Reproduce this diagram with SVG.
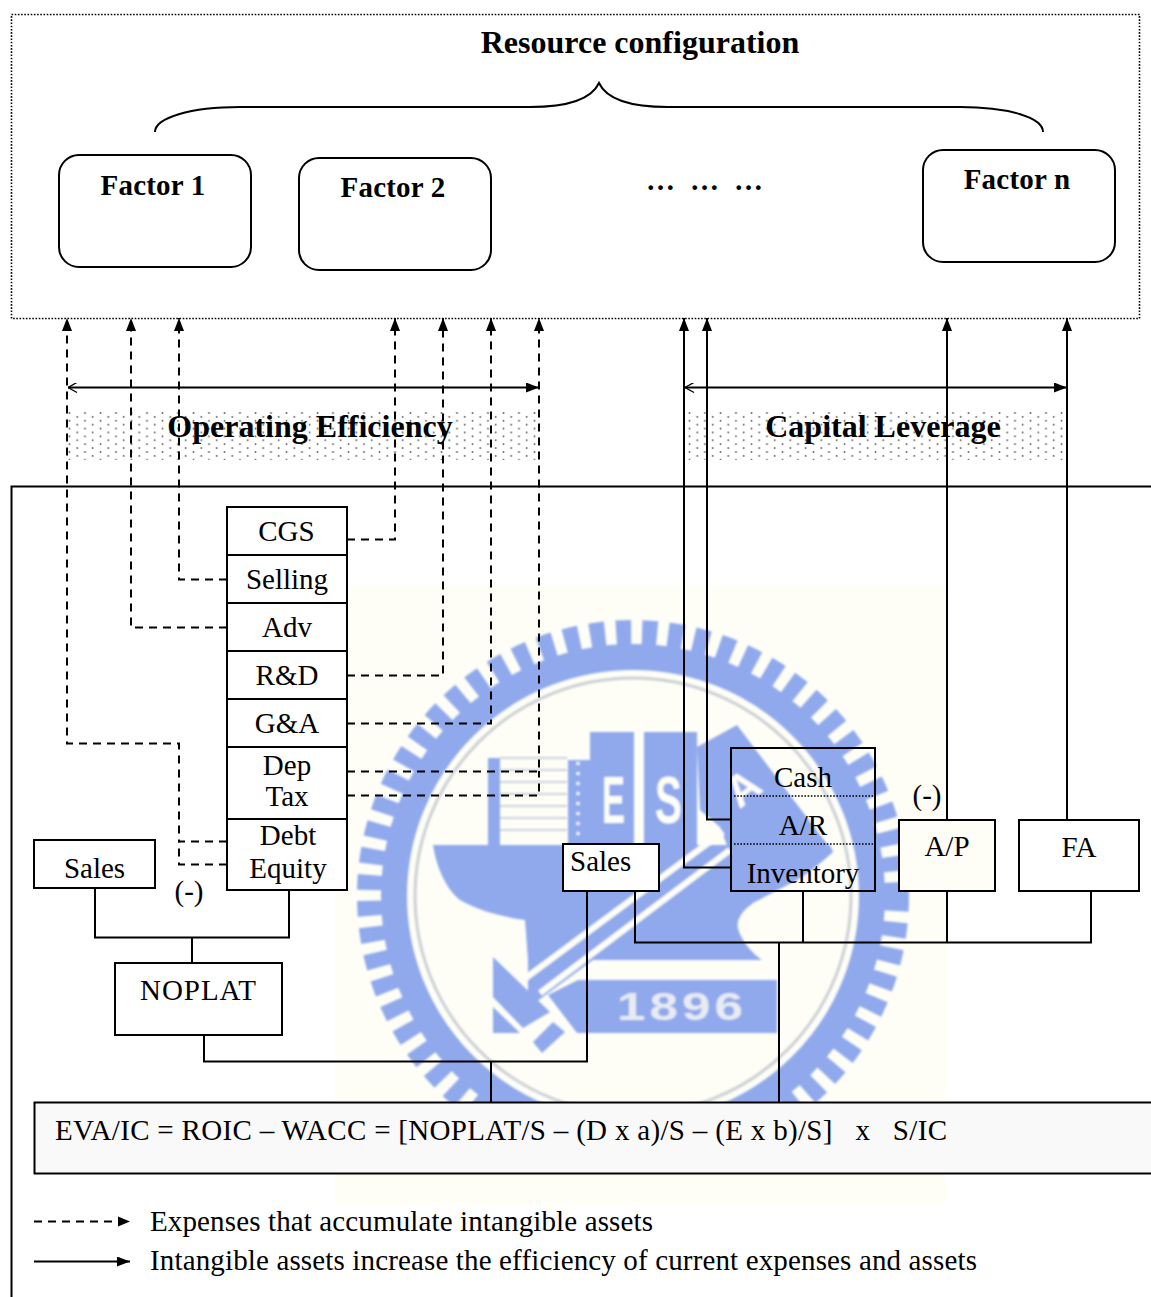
<svg xmlns="http://www.w3.org/2000/svg" width="1151" height="1297" viewBox="0 0 1151 1297">
<style>
text{font-family:"Liberation Serif","Times New Roman",serif;font-size:29px;fill:#000}
.b{font-weight:bold;letter-spacing:.2px}
.m{text-anchor:middle}
.t{font-size:32px;font-weight:bold}
.box{fill:#fff;stroke:#000;stroke-width:2}
.clear{fill:none;stroke:#000;stroke-width:2}
.solid{fill:none;stroke:#000;stroke-width:2}
.dash{fill:none;stroke:#000;stroke-width:2;stroke-dasharray:8 6}
.up{marker-end:url(#arrow)}
.wm{fill:#8fa9ec}
.wt{font-family:"Liberation Sans",Arial,sans-serif;font-weight:bold;fill:#fefef7}
</style>
<defs>
<marker id="arrow" markerUnits="userSpaceOnUse" markerWidth="14" markerHeight="12" refX="13" refY="5" orient="auto"><path d="M0 0L13 5L0 10Z" fill="#000"/></marker>
<marker id="open" markerUnits="userSpaceOnUse" markerWidth="12" markerHeight="12" refX="0" refY="5" orient="auto"><path d="M9 0L0 5L9 10" fill="none" stroke="#000" stroke-width="1.4"/></marker>
<pattern id="dots" width="15.5" height="7.8" patternUnits="userSpaceOnUse" x="67" y="412"><circle cx="2.5" cy="1" r="0.95" fill="#666"/><circle cx="10.25" cy="4.9" r="0.95" fill="#666"/></pattern>
<filter id="soft" filterUnits="userSpaceOnUse" x="335" y="585" width="610" height="620"><feGaussianBlur stdDeviation="0.9"/></filter>
</defs>
<rect width="1151" height="1297" fill="#fff"/>
<g id="watermark">
<rect x="335" y="585" width="610" height="620" fill="#fefef7"/>
<g filter="url(#soft)">
<circle cx="633" cy="896" r="263" fill="none" stroke="#8fa9ec" stroke-width="26" stroke-dasharray="15 11"/>
<circle cx="633" cy="896" r="239" fill="none" stroke="#8fa9ec" stroke-width="26"/>
<circle cx="633" cy="896" r="218" fill="none" stroke="#ccd0d4" stroke-width="3"/>
<path class="wm" d="M433 845H830L833 852C822 862 810 872 797 880L753 903C742 911 736 920 738 928C740 938 750 952 762 960H593L528 1008L528 960L525 920C510 918 480 912 460 900C445 888 436 865 433 845Z"/>
<rect class="wm" x="590" y="732" width="44" height="113"/>
<rect class="wm" x="644" y="732" width="53" height="113"/>
<path class="wm" d="M697 747L737 725L833 852L730 853L720 827L700 810Z"/>
<rect class="wm" x="488" y="758" width="12" height="87"/>
<rect class="wm" x="568" y="760" width="24" height="85"/>
<path d="M500 758H567M500 770H567M500 782H567M500 794H567M500 806H567M500 818H567M500 830H567" stroke="#ccd1de" stroke-width="2" fill="none"/>
<path d="M723 832L523 980M730 850L540 993" stroke="#fefef7" stroke-width="6" fill="none"/>
<path d="M578 762V840" stroke="#fefef7" stroke-width="3" stroke-dasharray="3 7" fill="none"/>
<path class="wm" d="M493 957L520 983L550 1012L523 1028L493 997Z"/>
<path class="wm" d="M493 1007L520 1033H493Z"/>
<path class="wm" d="M533 1042L553 1022L565 1032L542 1053Z"/>
<path class="wm" d="M578 980H777V1033H577L548 995Z"/>
<text class="wt" x="617" y="1020" textLength="130" lengthAdjust="spacingAndGlyphs" style="font-size:38px;letter-spacing:3px;fill:#e9ebf3">1896</text>
<text class="wt" x="602" y="823" textLength="23" lengthAdjust="spacingAndGlyphs" style="font-size:66px">E</text>
<text class="wt" x="655" y="823" textLength="27" lengthAdjust="spacingAndGlyphs" style="font-size:66px">S</text>
<text class="wt m" transform="translate(752 800) rotate(-37)" style="font-size:44px">A</text>
</g>
</g>
<g id="bands">
<rect x="67" y="412" width="472" height="48" fill="url(#dots)"/>
<rect x="684" y="412" width="383" height="48" fill="url(#dots)"/>
</g>
<g id="frames">
<rect x="11.5" y="14.5" width="1128" height="304" fill="none" stroke="#000" stroke-width="1.6" stroke-dasharray="1.6 1.6"/>
<path class="solid" d="M11.5 1297V486.5H1151"/>
</g>
<g id="brace"><path class="solid" d="M155 132C155 118 190 107 240 107H530C570 107 592 98 599 83C606 98 628 107 668 107H960C1010 107 1043 118 1043 132"/></g>
<g id="connectors">
<path class="dash up" d="M347 539.5H395V318"/>
<path class="dash up" d="M227 579.5H179V318"/>
<path class="dash up" d="M227 627.5H131V318"/>
<path class="dash up" d="M347 675.5H443V318"/>
<path class="dash up" d="M347 723.5H491V318"/>
<path class="dash up" d="M347 771.5H539V318"/>
<path class="dash" d="M347 795.5H539V771"/>
<path class="dash up" d="M227 841.5H179V743.5H67V318"/>
<path class="dash" d="M227 864.5H179V841"/>
<path class="solid up" d="M731 867.5H684V318"/>
<path class="solid up" d="M731 819.5H707V318"/>
<path class="solid up" d="M947 820V318"/>
<path class="solid up" d="M1067 820V318"/>
<path class="solid" d="M68 387.5H539" marker-start="url(#open)" marker-end="url(#arrow)"/>
<path class="solid" d="M685 387.5H1067" marker-start="url(#open)" marker-end="url(#arrow)"/>
<path class="solid" d="M95 888V937.5H289V890M192 937V963"/>
<path class="solid" d="M204 1035V1061.5H587V892M491 1061V1102"/>
<path class="solid" d="M635 892V942.5H1091V892M803 892V942M947 892V942M779 942V1102"/>
<path class="dash" d="M34 1221.5H118"/>
<path d="M118 1216.5L130 1221.5L118 1226.5Z" fill="#000"/>
<path class="solid up" d="M34 1261.5H130"/>
</g>
<text class="t m" x="640" y="53">Resource configuration</text>
<g id="factor1"><rect class="box" x="59" y="155" width="192" height="112" rx="20"/><text class="b m" x="153" y="195">Factor 1</text></g>
<g id="factor2"><rect class="box" x="299" y="158" width="192" height="112" rx="20"/><text class="b m" x="393" y="197">Factor 2</text></g>
<g id="dots-label"><text class="b" x="646" y="190">…</text><text class="b" x="690" y="190">…</text><text class="b" x="734" y="190">…</text></g>
<g id="factorn"><rect class="box" x="923" y="150" width="192" height="112" rx="20"/><text class="b m" x="1017" y="189">Factor n</text></g>
<g id="operating"><text class="t m" x="310" y="437">Operating Efficiency</text></g>
<g id="capital"><text class="t m" x="883" y="437">Capital Leverage</text></g>
<g id="cgs"><rect class="box" x="227" y="507" width="120" height="48"/><text class="m" x="286.500" y="541">CGS</text></g>
<g id="selling"><rect class="box" x="227" y="555" width="120" height="48"/><text class="m" x="287" y="589">Selling</text></g>
<g id="adv"><rect class="box" x="227" y="603" width="120" height="48"/><text class="m" x="287" y="637">Adv</text></g>
<g id="rd"><rect class="box" x="227" y="651" width="120" height="48"/><text class="m" x="287" y="685">R&amp;D</text></g>
<g id="ga"><rect class="box" x="227" y="699" width="120" height="48"/><text class="m" x="287" y="733">G&amp;A</text></g>
<g id="deptax"><rect class="box" x="227" y="747" width="120" height="72"/><text class="m" x="287" y="775">Dep</text><text class="m" x="287" y="806">Tax</text></g>
<g id="debtequity"><rect class="box" x="227" y="819" width="120" height="71"/><text class="m" x="288" y="845">Debt</text><text class="m" x="288" y="878">Equity</text></g>
<g id="sales-left"><rect class="box" x="34" y="840" width="121" height="48"/><text class="m" x="94.500" y="878">Sales</text></g>
<text class="m" x="189" y="901">(-)</text>
<g id="noplat"><rect class="box" x="115" y="963" width="167" height="72"/><text class="m" x="198" y="1000" textLength="116">NOPLAT</text></g>
<g id="sales-mid"><rect class="box" x="563" y="844" width="96" height="47"/><text x="570" y="871">Sales</text></g>
<g id="current-assets"><rect class="clear" x="731" y="748" width="144" height="143"/>
<path d="M734 796H873M734 844H873" stroke="#000" stroke-width="1.6" stroke-dasharray="1.6 1.6" fill="none"/>
<text class="m" x="803" y="787">Cash</text><text class="m" x="803" y="835">A/R</text><text class="m" x="803" y="883">Inventory</text></g>
<g id="ap"><rect class="box" x="899" y="820" width="96" height="71" style="fill:#fefef7"/><text class="m" x="947" y="856">A/P</text></g>
<text class="m" x="927" y="805">(-)</text>
<g id="fa"><rect class="box" x="1019" y="820" width="120" height="71"/><text class="m" x="1079" y="857">FA</text></g>
<g id="formula"><rect x="34.500" y="1102.500" width="1130" height="71" fill="#f9f9f9" stroke="#000" stroke-width="2"/><text x="55" y="1140" xml:space="preserve" textLength="892">EVA/IC = ROIC – WACC = [NOPLAT/S – (D x a)/S – (E x b)/S]   x   S/IC</text></g>
<g id="legend"><text x="150" y="1231" textLength="503">Expenses that accumulate intangible assets</text><text x="150" y="1270" textLength="827">Intangible assets increase the efficiency of current expenses and assets</text></g>
</svg>
